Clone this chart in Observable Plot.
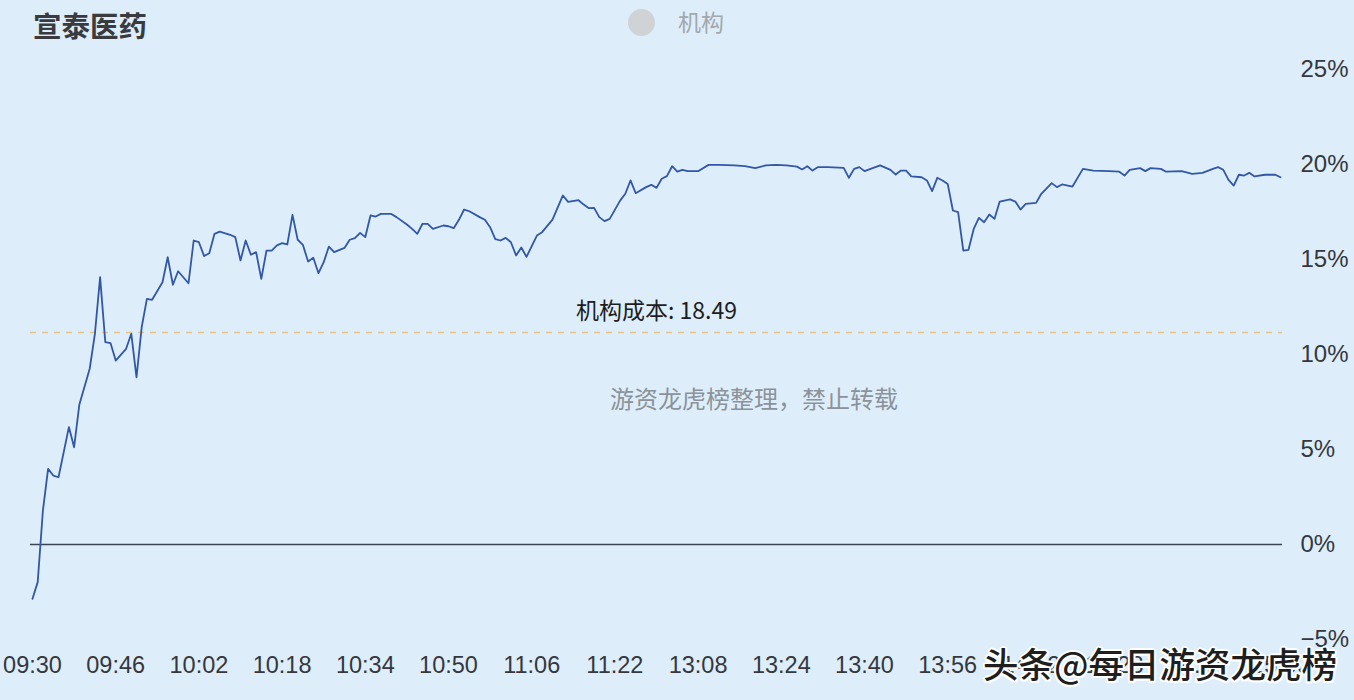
<!DOCTYPE html>
<html>
<head>
<meta charset="utf-8">
<script src="https://cdn.jsdelivr.net/npm/d3@7"></script>
<script src="https://cdn.jsdelivr.net/npm/@observablehq/plot@0.6"></script>
<style>
  html, body { margin: 0; padding: 0; background: #ddeefa; }
  #wrap { position: relative; width: 1354px; height: 700px; overflow: hidden; background: #ddeefa;
          font-family: "Liberation Sans", "Noto Sans CJK SC", sans-serif; }
  #wrap svg { position: absolute; left: 0; top: 0; }
  .ov { position: absolute; white-space: nowrap; line-height: 1; font-family: "Noto Sans CJK SC", sans-serif; }
  #title { left: 33px; top: 11px; font-size: 28.5px; font-weight: 600; color: #3a3b3f; }
  #legdot { position: absolute; left: 628px; top: 9px; width: 27px; height: 27px; border-radius: 50%; background: #cfd3d6; }
  #legtxt { left: 678px; top: 10px; font-size: 23px; color: #a3a8ad; }
  #wm { left: 610px; top: 386px; font-size: 24px; color: #8b929a; }
  #wm2 { left: 983px; top: 645px; font-size: 35.5px; color: #1e1e1e; font-weight: 500;
         text-shadow: 2px 0 #fff, -2px 0 #fff, 0 2px #fff, 0 -2px #fff, 1.5px 1.5px #fff, -1.5px -1.5px #fff, 1.5px -1.5px #fff, -1.5px 1.5px #fff; }
</style>
</head>
<body>
<div id="wrap">
  <div class="ov" id="title">宣泰医药</div>
  <div id="legdot"></div>
  <div class="ov" id="legtxt">机构</div>
  <div class="ov" id="wm">游资龙虎榜整理，禁止转载</div>
</div>
<script>
// Trading-minute index since 09:30 (11:30/13:00 merged) and % change vs previous close
const minute = [0,1,2,3,4,5,7,8,9,11,12,13,14,15,16,18,19,20,21,22,23,25,26,27,28,30,31,32,33,34,35,36,38,39,40,41,42,43,44,45,46,47,48,49,50,51,52,53,54,55,56,57,58,60,61,62,63,64,65,66,67,69,70,72,73,74,75,76,77,79,80,81,82,83,84,86,87,88,89,90,91,92,93,94,95,97,98,100,102,103,105,106,107,108,109,110,111,113,114,115,116,118,119,120,121,122,123,124,125,126,128,130,132,135,137,139,141,143,145,147,148,149,150,151,153,156,157,158,159,160,163,165,166,167,168,169,171,172,173,174,175,176,177,178,179,180,181,182,183,184,185,186,188,189,190,191,193,194,196,197,198,200,202,204,207,209,210,211,213,214,215,217,218,221,223,225,227,228,229,230,231,232,233,234,235,237,239,240];
const pct = [-2.86,-1.98,1.79,3.98,3.63,3.54,6.18,5.12,7.35,9.25,11.09,14.07,10.65,10.6,9.68,10.3,11.09,8.8,11.44,12.93,12.88,13.8,15.12,13.67,14.38,13.75,16.0,15.91,15.18,15.33,16.35,16.47,16.3,16.18,14.95,16.0,15.25,15.39,13.98,15.47,15.47,15.74,15.86,15.79,17.35,16.04,15.77,14.89,15.09,14.28,14.86,15.68,15.39,15.61,16.04,16.12,16.4,16.18,17.32,17.26,17.4,17.4,17.23,16.84,16.61,16.35,16.88,16.88,16.61,16.79,16.75,16.65,17.09,17.63,17.54,17.23,17.09,16.7,16.07,16.0,16.14,15.91,15.21,15.63,15.14,16.26,16.44,17.1,18.37,18.03,18.12,17.89,17.7,17.72,17.23,17.02,17.14,18.1,18.46,19.16,18.49,18.81,18.93,18.77,19.25,19.39,19.91,19.63,19.72,19.65,19.65,19.98,19.98,19.95,19.91,19.81,19.95,19.98,19.95,19.89,19.74,19.91,19.68,19.86,19.86,19.82,19.3,19.77,19.86,19.65,19.95,19.72,19.47,19.68,19.68,19.37,19.33,19.16,18.6,19.3,19.16,18.98,17.58,17.49,15.47,15.51,16.61,17.19,16.96,17.37,17.14,18.05,18.16,18.05,17.63,17.93,17.98,18.46,19.02,18.81,18.95,18.84,19.77,19.68,19.65,19.62,19.42,19.72,19.81,19.65,19.81,19.77,19.62,19.65,19.51,19.56,19.77,19.86,19.72,19.19,18.89,19.46,19.42,19.56,19.37,19.46,19.46,19.33];

const xTickMinutes = [0,16,32,48,64,80,96,112,128,144,160,176,192,208,224,240];
const xTickLabels = ["09:30","09:46","10:02","10:18","10:34","10:50","11:06","11:22","13:08","13:24","13:40","13:56","14:12","14:28","14:44","15:00"];
const yTicks = [-5,0,5,10,15,20,25];
const costPct = [11.16];
const costLabel = ["机构成本: 18.49"];

const data = minute.map((m, i) => ({m, p: pct[i]}));

const chart = Plot.plot({
  width: 1354,
  height: 700,
  marginTop: 69,
  marginBottom: 61,
  marginLeft: 32,
  marginRight: 74,
  style: {background: "transparent", color: "#34373d", fontFamily: "'Liberation Sans', 'Noto Sans CJK SC', sans-serif"},
  x: {domain: [0, 240], label: null},
  y: {domain: [-5, 25], label: null},
  marks: [
    Plot.ruleY([0], {stroke: "#3b4552", strokeWidth: 1.3, insetLeft: -2, insetRight: -2}),
    Plot.ruleY(costPct, {stroke: "#e6c387", strokeWidth: 1.4, strokeDasharray: "6,6", insetLeft: -2, insetRight: -2}),
    Plot.text(costLabel, {y: costPct, frameAnchor: "middle", dy: -21, fontSize: 23, fill: "#1c1d20",
      fontFamily: "'Noto Sans CJK SC', sans-serif"}),
    Plot.line(data, {x: "m", y: "p", stroke: "#3157a6", strokeWidth: 1.8}),
    Plot.axisY({anchor: "right", ticks: yTicks, tickSize: 0, tickPadding: 20, textAnchor: "start", label: null,
      fontSize: 24, tickFormat: d => (d < 0 ? "−" : "") + Math.abs(d) + "%"}),
    Plot.axisX({ticks: xTickMinutes, tickSize: 0, tickPadding: 17, fontSize: 23.5, label: null,
      tickFormat: d => xTickLabels[xTickMinutes.indexOf(d)]})
  ]
});
document.getElementById("wrap").appendChild(chart);
const wm2 = document.createElement("div");
wm2.className = "ov"; wm2.id = "wm2"; wm2.textContent = "头条@每日游资龙虎榜";
document.getElementById("wrap").appendChild(wm2);
</script>
</body>
</html>
